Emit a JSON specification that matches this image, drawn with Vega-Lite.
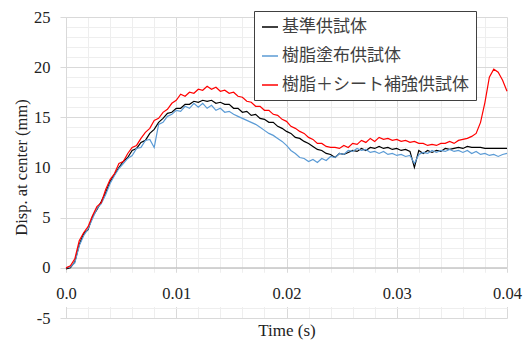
{
  "$schema": "https://vega.github.io/schema/vega-lite/v6.json",
  "width": 441,
  "height": 301,
  "autosize": {"type": "none"},
  "padding": {"left": 66, "top": 17, "right": 18, "bottom": 24},
  "background": "white",
  "config": {
    "font": "Liberation Serif",
    "view": {"stroke": null},
    "axis": {"labelFont": "Liberation Serif", "titleFont": "Liberation Serif", "labelFontSize": 16.5, "titleFontSize": 17, "titleFontWeight": "normal", "labelFontWeight": "normal", "labelColor": "#222222", "titleColor": "#222222"},
    "style": {"guide-label": {"font": "Liberation Serif", "fontWeight": "normal"}, "guide-title": {"font": "Liberation Serif", "fontWeight": "normal"}}
  },
  "resolve": {"axis": {"x": "independent", "y": "independent"}},
  "datasets": {
    "disp": [
      {"t":0,"base":-0.1,"resin":0.0,"sheet":0.0},
      {"t":0.0004,"base":0.0,"resin":0.1,"sheet":0.2},
      {"t":0.0008,"base":0.6,"resin":0.5,"sheet":0.9},
      {"t":0.0012,"base":2.3,"resin":2.2,"sheet":2.7},
      {"t":0.0016,"base":3.4,"resin":3.2,"sheet":3.5},
      {"t":0.002,"base":3.8,"resin":3.9,"sheet":4.1},
      {"t":0.0024,"base":5.1,"resin":4.9,"sheet":5.2},
      {"t":0.0028,"base":5.8,"resin":5.9,"sheet":6.1},
      {"t":0.0032,"base":6.6,"resin":6.4,"sheet":6.5},
      {"t":0.0036,"base":7.5,"resin":7.3,"sheet":7.8},
      {"t":0.004,"base":8.6,"resin":8.4,"sheet":8.8},
      {"t":0.0044,"base":9.3,"resin":9.2,"sheet":9.4},
      {"t":0.0048,"base":10.0,"resin":9.9,"sheet":10.4},
      {"t":0.0052,"base":10.6,"resin":10.4,"sheet":10.6},
      {"t":0.0056,"base":11.0,"resin":10.9,"sheet":11.4},
      {"t":0.006,"base":11.7,"resin":11.2,"sheet":12.0},
      {"t":0.0064,"base":11.9,"resin":11.9,"sheet":12.2},
      {"t":0.0068,"base":12.5,"resin":12.0,"sheet":12.9},
      {"t":0.0072,"base":12.7,"resin":12.7,"sheet":13.5},
      {"t":0.0076,"base":13.4,"resin":12.8,"sheet":13.9},
      {"t":0.008,"base":13.8,"resin":12.0,"sheet":14.7},
      {"t":0.0084,"base":14.5,"resin":14.3,"sheet":14.9},
      {"t":0.0088,"base":14.9,"resin":14.5,"sheet":15.5},
      {"t":0.0092,"base":15.4,"resin":15.1,"sheet":15.8},
      {"t":0.0096,"base":15.5,"resin":15.3,"sheet":16.4},
      {"t":0.01,"base":15.9,"resin":15.7,"sheet":16.7},
      {"t":0.0104,"base":15.9,"resin":15.6,"sheet":17.3},
      {"t":0.0108,"base":16.3,"resin":16.1,"sheet":17.1},
      {"t":0.0112,"base":16.3,"resin":15.9,"sheet":17.5},
      {"t":0.0116,"base":16.6,"resin":16.4,"sheet":17.4},
      {"t":0.012,"base":16.5,"resin":16.0,"sheet":17.8},
      {"t":0.0124,"base":16.7,"resin":16.4,"sheet":17.7},
      {"t":0.0128,"base":16.6,"resin":15.9,"sheet":18.1},
      {"t":0.0132,"base":16.7,"resin":16.2,"sheet":17.8},
      {"t":0.0136,"base":16.4,"resin":15.7,"sheet":18.0},
      {"t":0.014,"base":16.5,"resin":15.9,"sheet":17.6},
      {"t":0.0144,"base":16.3,"resin":15.5,"sheet":17.7},
      {"t":0.0148,"base":16.3,"resin":15.6,"sheet":17.4},
      {"t":0.0152,"base":15.9,"resin":15.3,"sheet":17.5},
      {"t":0.0156,"base":15.9,"resin":15.1,"sheet":17.1},
      {"t":0.016,"base":15.5,"resin":14.9,"sheet":17.0},
      {"t":0.0164,"base":15.6,"resin":14.7,"sheet":16.6},
      {"t":0.0168,"base":15.2,"resin":14.5,"sheet":16.5},
      {"t":0.0172,"base":15.3,"resin":14.3,"sheet":16.1},
      {"t":0.0176,"base":14.9,"resin":14.0,"sheet":16.1},
      {"t":0.018,"base":14.8,"resin":13.7,"sheet":15.7},
      {"t":0.0184,"base":14.5,"resin":13.4,"sheet":15.7},
      {"t":0.0188,"base":14.5,"resin":13.2,"sheet":15.3},
      {"t":0.0192,"base":14.1,"resin":12.9,"sheet":15.2},
      {"t":0.0196,"base":13.9,"resin":12.6,"sheet":14.8},
      {"t":0.02,"base":13.6,"resin":12.2,"sheet":14.6},
      {"t":0.0204,"base":13.4,"resin":11.7,"sheet":14.1},
      {"t":0.0208,"base":13.0,"resin":11.4,"sheet":13.9},
      {"t":0.0212,"base":12.9,"resin":11.0,"sheet":13.6},
      {"t":0.0216,"base":12.6,"resin":10.9,"sheet":13.4},
      {"t":0.022,"base":12.4,"resin":10.6,"sheet":13.0},
      {"t":0.0224,"base":12.1,"resin":10.8,"sheet":12.8},
      {"t":0.0228,"base":11.8,"resin":10.5,"sheet":12.4},
      {"t":0.0232,"base":11.7,"resin":10.9,"sheet":12.4},
      {"t":0.0236,"base":11.4,"resin":10.7,"sheet":12.1},
      {"t":0.024,"base":11.3,"resin":11.1,"sheet":12.0},
      {"t":0.0244,"base":11.0,"resin":11.0,"sheet":12.0},
      {"t":0.0248,"base":11.4,"resin":11.4,"sheet":11.9},
      {"t":0.0252,"base":11.3,"resin":11.3,"sheet":12.2},
      {"t":0.0256,"base":11.5,"resin":11.7,"sheet":12.0},
      {"t":0.026,"base":11.7,"resin":11.6,"sheet":12.4},
      {"t":0.0264,"base":11.6,"resin":11.9,"sheet":12.3},
      {"t":0.0268,"base":11.9,"resin":11.7,"sheet":12.7},
      {"t":0.0272,"base":11.7,"resin":11.8,"sheet":12.5},
      {"t":0.0276,"base":12.0,"resin":11.5,"sheet":12.9},
      {"t":0.028,"base":11.9,"resin":11.6,"sheet":12.6},
      {"t":0.0284,"base":12.1,"resin":11.4,"sheet":13.0},
      {"t":0.0288,"base":11.9,"resin":11.6,"sheet":12.8},
      {"t":0.0292,"base":12.0,"resin":11.3,"sheet":12.9},
      {"t":0.0296,"base":11.8,"resin":11.4,"sheet":12.7},
      {"t":0.03,"base":11.9,"resin":11.2,"sheet":12.8},
      {"t":0.0304,"base":11.7,"resin":11.3,"sheet":12.6},
      {"t":0.0308,"base":11.8,"resin":11.1,"sheet":12.7},
      {"t":0.0312,"base":11.6,"resin":11.2,"sheet":12.5},
      {"t":0.0316,"base":10.0,"resin":10.4,"sheet":12.6},
      {"t":0.032,"base":11.7,"resin":11.3,"sheet":12.4},
      {"t":0.0324,"base":11.4,"resin":11.5,"sheet":12.4},
      {"t":0.0328,"base":11.7,"resin":11.4,"sheet":12.2},
      {"t":0.0332,"base":11.5,"resin":11.7,"sheet":12.3},
      {"t":0.0336,"base":11.7,"resin":11.5,"sheet":12.2},
      {"t":0.034,"base":11.6,"resin":11.7,"sheet":12.4},
      {"t":0.0344,"base":11.9,"resin":11.6,"sheet":12.4},
      {"t":0.0348,"base":11.8,"resin":11.8,"sheet":12.6},
      {"t":0.0352,"base":11.9,"resin":11.6,"sheet":12.4},
      {"t":0.0356,"base":12.0,"resin":11.7,"sheet":12.7},
      {"t":0.036,"base":11.9,"resin":11.5,"sheet":12.8},
      {"t":0.0364,"base":12.1,"resin":11.7,"sheet":12.9},
      {"t":0.0368,"base":12.0,"resin":11.4,"sheet":13.1},
      {"t":0.0372,"base":12.0,"resin":11.6,"sheet":13.4},
      {"t":0.0376,"base":12.0,"resin":11.3,"sheet":14.5},
      {"t":0.038,"base":11.9,"resin":11.4,"sheet":16.5},
      {"t":0.0384,"base":11.9,"resin":11.2,"sheet":19.0},
      {"t":0.0388,"base":11.9,"resin":11.3,"sheet":19.8},
      {"t":0.0392,"base":11.9,"resin":11.1,"sheet":19.5},
      {"t":0.0396,"base":11.9,"resin":11.3,"sheet":18.7},
      {"t":0.04,"base":11.9,"resin":11.4,"sheet":17.6}
    ]
  },
  "layer": [
    {
      "data": {"values": [{}]},
      "mark": {"type": "rect", "color": "white", "clip": false},
      "encoding": {
        "x": {
          "datum": -0.0004, "type": "quantitative",
          "scale": {"domain": [0, 0.04], "nice": false, "zero": false},
          "axis": {"orient": "bottom", "values": [0,0.002,0.004,0.006,0.008,0.01,0.012,0.014,0.016,0.018,0.02,0.022,0.024,0.026,0.028,0.03,0.032,0.034,0.036,0.038,0.04], "grid": true, "gridColor": "#eeeeee", "labels": false, "ticks": false, "domain": false, "title": null}
        },
        "x2": {"datum": 0.0404},
        "y": {
          "datum": -0.5, "type": "quantitative",
          "scale": {"domain": [-5, 25], "nice": false, "zero": false},
          "axis": {"orient": "left", "values": [-5,-4,-3,-2,-1,0,1,2,3,4,5,6,7,8,9,10,11,12,13,14,15,16,17,18,19,20,21,22,23,24,25], "grid": true, "gridColor": "#eeeeee", "labels": false, "ticks": false, "domain": false, "title": null}
        },
        "y2": {"datum": -3.9}
      }
    },
    {
      "data": {"values": [{}]},
      "mark": {"type": "rule", "color": "#bfbfbf", "strokeWidth": 1},
      "encoding": {
        "x": {
          "datum": 0, "type": "quantitative",
          "scale": {"domain": [0, 0.04], "nice": false, "zero": false},
          "axis": {"orient": "bottom", "values": [0,0.01,0.02,0.03,0.04], "grid": true, "gridColor": "#d9d9d9", "labels": false, "ticks": false, "domain": false, "title": null}
        },
        "x2": {"datum": 0.04},
        "y": {
          "datum": 0, "type": "quantitative",
          "scale": {"domain": [-5, 25], "nice": false, "zero": false},
          "axis": {"orient": "left", "values": [-5,0,5,10,15,20,25], "grid": true, "gridColor": "#d9d9d9", "labels": false, "ticks": false, "domain": false, "title": null}
        }
      }
    },
    {
      "data": {"name": "disp"},
      "transform": [{"fold": ["base", "resin", "sheet"], "as": ["series", "value"]}],
      "mark": {"type": "line", "strokeWidth": 1.2},
      "encoding": {
        "x": {
          "field": "t", "type": "quantitative",
          "scale": {"domain": [0, 0.04], "nice": false, "zero": false},
          "axis": {
            "orient": "bottom", "values": [0,0.01,0.02,0.03,0.04], "grid": false, "domain": false, "ticks": false,
            "labelExpr": "datum.value == 0 ? '0.0' : format(datum.value, '.2f')",
            "labelFont": "Liberation Serif", "labelFontSize": 16.5, "labelColor": "#222222", "labelFontWeight": "normal",
            "labelPadding": -25, "labelBaseline": "middle", "labelFlush": false, "labelOverlap": false,
            "zindex": 1,
            "title": "Time (s)", "titleFont": "Liberation Serif", "titleFontSize": 17, "titleFontWeight": "normal", "titleColor": "#222222",
            "titleX": 220.5, "titleY": 17, "titleBaseline": "alphabetic", "titleAlign": "center"
          }
        },
        "y": {
          "field": "value", "type": "quantitative",
          "scale": {"domain": [-5, 25], "nice": false, "zero": false},
          "axis": {
            "orient": "left", "values": [-5,0,5,10,15,20,25], "grid": false,
            "labelExpr": "datum.value < 0 ? '-' + abs(datum.value) : '' + datum.value",
            "domain": true, "domainColor": "#d9d9d9", "ticks": true, "tickColor": "#d9d9d9", "tickSize": 6,
            "labelFont": "Liberation Serif", "labelFontSize": 16.5, "labelColor": "#222222", "labelFontWeight": "normal", "labelPadding": 10, "labelFlush": false, "labelOverlap": false,
            "title": "Disp. at center (mm)", "titleFont": "Liberation Serif", "titleFontSize": 16.5, "titleFontWeight": "normal", "titleColor": "#222222",
            "titleX": -40, "titleY": 150, "titleAngle": -90, "titleAlign": "center", "titleBaseline": "alphabetic"
          }
        },
        "color": {
          "field": "series", "type": "nominal",
          "scale": {"domain": ["base", "resin", "sheet"], "range": ["#000000", "#5B9BD5", "#FF0000"]},
          "legend": {
            "orient": "none", "legendX": 188, "legendY": -6, "title": null, "zindex": 1,
            "labelExpr": "datum.label == 'base' ? '基準供試体' : datum.label == 'resin' ? '樹脂塗布供試体' : '樹脂＋シート補強供試体'",
            "symbolType": "stroke", "symbolSize": 256, "symbolStrokeWidth": 1.5,
            "labelFont": "Noto Sans CJK JP", "labelFontSize": 17, "labelColor": "#404040", "labelOffset": 3, "labelLimit": 0,
            "rowPadding": 12, "padding": 7, "strokeColor": "#404040", "fillColor": "white"
          }
        }
      }
    }
  ]
}
